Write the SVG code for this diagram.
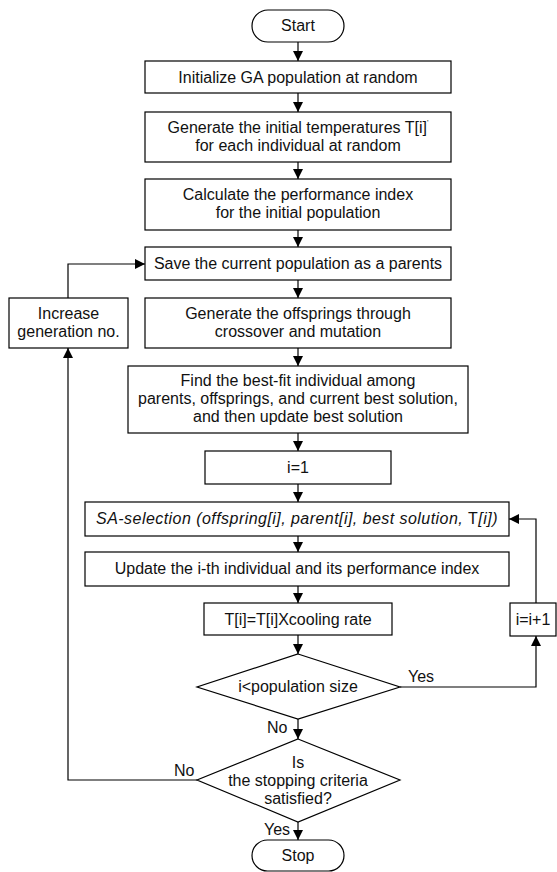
<svg xmlns="http://www.w3.org/2000/svg" width="557" height="872" viewBox="0 0 557 872">
<defs>
<marker id="ah" viewBox="0 0 10 10" refX="10" refY="5" markerWidth="10" markerHeight="10" markerUnits="userSpaceOnUse" orient="auto">
<path d="M0,0 L10,5 L0,10 z" fill="#000"/>
</marker>
</defs>
<style>
.b{fill:#fff;stroke:#000;stroke-width:1.2}
.t{font-family:"Liberation Sans",Arial,sans-serif;font-size:16px;fill:#111;text-anchor:middle}
.l{font-family:"Liberation Sans",Arial,sans-serif;font-size:16px;fill:#111}
.c{fill:none;stroke:#000;stroke-width:1.2}
</style>
<rect width="557" height="872" fill="#fff"/>
<g id="connectors">
<path class="c" d="M298,42 V61" marker-end="url(#ah)"/>
<path class="c" d="M298,93 V112" marker-end="url(#ah)"/>
<path class="c" d="M298,162 V179" marker-end="url(#ah)"/>
<path class="c" d="M298,230 V247" marker-end="url(#ah)"/>
<path class="c" d="M298,280 V298" marker-end="url(#ah)"/>
<path class="c" d="M298,348 V366" marker-end="url(#ah)"/>
<path class="c" d="M298,433 V451" marker-end="url(#ah)"/>
<path class="c" d="M298,484 V502" marker-end="url(#ah)"/>
<path class="c" d="M298,536 V552" marker-end="url(#ah)"/>
<path class="c" d="M298,586 V603" marker-end="url(#ah)"/>
<path class="c" d="M298,635 V654" marker-end="url(#ah)"/>
<path class="c" d="M298,719 V739" marker-end="url(#ah)"/>
<path class="c" d="M298,822 V840" marker-end="url(#ah)"/>
<path class="c" d="M400,687 H536 V636" marker-end="url(#ah)"/>
<path class="c" d="M536,603 V519 H509" marker-end="url(#ah)"/>
<path class="c" d="M197,780 H68 V348" marker-end="url(#ah)"/>
<path class="c" d="M68,298 V264 H145" marker-end="url(#ah)"/>
<text class="l" x="408" y="682">Yes</text>
<text class="l" x="267" y="733">No</text>
<text class="l" x="174" y="776">No</text>
<text class="l" x="264" y="835">Yes</text>
</g>
<g id="start">
<rect class="b" x="252" y="10" width="92" height="32" rx="16"/>
<text class="t" x="298" y="31">Start</text>
</g>
<g id="init">
<rect class="b" x="145" y="61" width="306" height="32"/>
<text class="t" x="298" y="83">Initialize GA population at random</text>
</g>
<g id="temps">
<rect class="b" x="145" y="112" width="306" height="50"/>
<text class="t" x="298" y="133">Generate the initial temperatures T[i]<tspan font-size="8" dy="-8">'</tspan></text>
<text class="t" x="298" y="151">for each individual at random</text>
</g>
<g id="calc">
<rect class="b" x="145" y="179" width="306" height="51"/>
<text class="t" x="298" y="200">Calculate the performance index</text>
<text class="t" x="298" y="218">for the initial population</text>
</g>
<g id="save">
<rect class="b" x="145" y="247" width="306" height="33"/>
<text class="t" x="298" y="269">Save the current population as a parents</text>
</g>
<g id="increase">
<rect class="b" x="9" y="298" width="119" height="50"/>
<text class="t" x="68.5" y="319">Increase</text>
<text class="t" x="68.5" y="337">generation no.</text>
</g>
<g id="offspring">
<rect class="b" x="145" y="298" width="306" height="50"/>
<text class="t" x="298" y="319">Generate the offsprings through</text>
<text class="t" x="298" y="337">crossover and mutation</text>
</g>
<g id="find">
<rect class="b" x="128" y="366" width="340" height="67"/>
<text class="t" x="298" y="386">Find the best-fit individual among</text>
<text class="t" x="298" y="404">parents, offsprings, and current best solution,</text>
<text class="t" x="298" y="422">and then update best solution</text>
</g>
<g id="i1">
<rect class="b" x="205" y="451" width="186" height="33"/>
<text class="t" x="298" y="473">i=1</text>
</g>
<g id="sasel">
<rect class="b" x="85" y="502" width="424" height="34"/>
<text class="t" x="297" y="524" font-style="italic" letter-spacing="0.45">SA-selection (offspring[i], parent[i], best solution, <tspan font-style="normal">T</tspan>[i])</text>
</g>
<g id="update">
<rect class="b" x="85" y="552" width="424" height="34"/>
<text class="t" x="297" y="574">Update the i-th individual and its performance index</text>
</g>
<g id="cool">
<rect class="b" x="204" y="603" width="188" height="32"/>
<text class="t" x="298" y="625">T[i]=T[i]Xcooling rate</text>
</g>
<g id="inc">
<rect class="b" x="510" y="603" width="46" height="33"/>
<text class="t" x="533" y="625" font-size="14">i=i+1</text>
</g>
<g id="popcheck">
<polygon class="b" points="298,654 400,687 298,719 197,687"/>
<text class="t" x="298" y="692">i&lt;population size</text>
</g>
<g id="stopcheck">
<polygon class="b" points="298,739 400,780 298,822 197,780"/>
<text class="t" x="298" y="768">Is</text>
<text class="t" x="298" y="786">the stopping criteria</text>
<text class="t" x="298" y="804">satisfied?</text>
</g>
<g id="stop">
<rect class="b" x="252" y="840" width="92" height="31" rx="15.5"/>
<text class="t" x="298" y="861">Stop</text>
</g>
</svg>
